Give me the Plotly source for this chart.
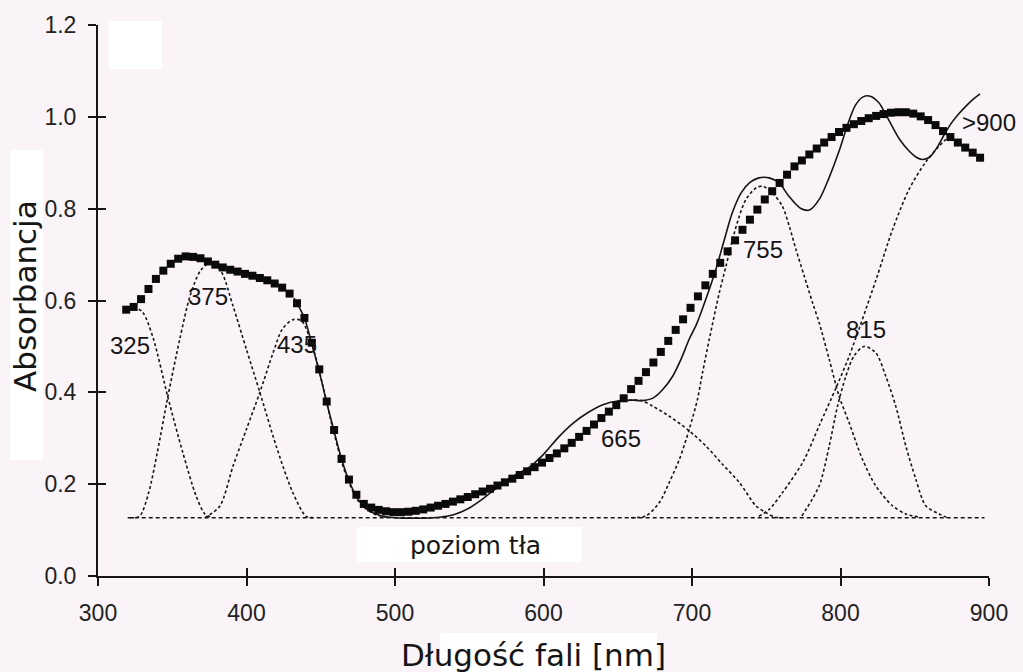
import plotly.graph_objects as go

# ---- measured absorbance spectrum (square markers) ----
wavelength = [
    319, 324, 329, 334, 339, 344, 349, 354, 359, 364, 369, 374, 379, 384, 389, 394,
    399, 404, 409, 414, 419, 424, 429, 434, 439, 444, 449, 454, 459, 464, 469, 474,
    479, 484, 489, 494, 499, 504, 509, 514, 519, 524, 529, 534, 539, 544, 549, 554,
    559, 564, 569, 574, 579, 584, 589, 594, 599, 604, 609, 614, 619, 624, 629, 634,
    639, 644, 649, 654, 659, 664, 669, 674, 679, 684, 689, 694, 699, 704, 709, 714,
    719, 724, 729, 734, 739, 744, 749, 754, 759, 764, 769, 774, 779, 784, 789, 794,
    799, 804, 809, 814, 819, 824, 829, 834, 839, 844, 849, 854, 859, 864, 869, 874,
    879, 884, 889, 894,
]
absorbance = [
    0.580, 0.586, 0.603, 0.625, 0.647, 0.665, 0.680, 0.691, 0.696, 0.695, 0.692, 0.685,
    0.678, 0.672, 0.667, 0.663, 0.658, 0.654, 0.649, 0.644, 0.637, 0.628, 0.615, 0.594,
    0.562, 0.508, 0.450, 0.380, 0.318, 0.255, 0.210, 0.177, 0.157, 0.149, 0.144, 0.141,
    0.139, 0.139, 0.140, 0.142, 0.145, 0.149, 0.153, 0.157, 0.162, 0.167, 0.172, 0.178,
    0.184, 0.190, 0.197, 0.204, 0.212, 0.220, 0.228, 0.237, 0.247, 0.257, 0.267, 0.278,
    0.290, 0.303, 0.316, 0.330, 0.344, 0.358, 0.372, 0.387, 0.407, 0.425, 0.444, 0.465,
    0.488, 0.512, 0.536, 0.559, 0.584, 0.609, 0.633, 0.658, 0.682, 0.707, 0.731, 0.754,
    0.776, 0.798, 0.820, 0.838, 0.856, 0.874, 0.892, 0.905, 0.918, 0.931, 0.944, 0.956,
    0.967, 0.976, 0.984, 0.991, 0.997, 1.002, 1.006, 1.009, 1.010, 1.010, 1.007, 1.001,
    0.993, 0.982, 0.969, 0.956, 0.944, 0.933, 0.922, 0.911,
]

# ---- sum of fitted bands (solid line) ----
fit_wl = [
    432, 439, 444, 449, 454, 459, 464, 469, 474, 479, 484, 489, 494, 500, 510, 520,
    530, 540, 550, 560, 570, 580, 590, 600, 610, 620, 630, 640, 650, 660, 666, 674,
    680, 687, 693, 698, 703, 709, 716, 722, 727, 733, 739, 745, 752, 759, 765, 773,
    779, 786, 792, 799, 805, 810, 815, 820, 826, 830, 835, 840, 846, 851, 855, 860,
    865, 870, 875, 880, 885, 890, 894,
]
fit_abs = [
    0.605, 0.562, 0.505, 0.445, 0.378, 0.315, 0.255, 0.208, 0.173, 0.152, 0.140, 0.133,
    0.129, 0.127, 0.126, 0.126, 0.128, 0.134, 0.148, 0.170, 0.196, 0.218, 0.236, 0.265,
    0.302, 0.333, 0.356, 0.373, 0.381, 0.383, 0.382, 0.388, 0.405, 0.435, 0.475, 0.515,
    0.548, 0.600, 0.667, 0.735, 0.790, 0.834, 0.857, 0.867, 0.867, 0.855, 0.828, 0.801,
    0.797, 0.822, 0.865, 0.925, 0.985, 1.025, 1.043, 1.045, 1.030, 1.008, 0.978, 0.950,
    0.926, 0.912, 0.907, 0.912, 0.933, 0.962, 0.988, 1.008, 1.025, 1.040, 1.050,
]

# ---- background level (dotted) ----
baseline_wl = [320, 897]
baseline_abs = [0.127, 0.127]

# ---- individual Gaussian bands (dotted) ----
band_325_wl = [324, 330, 337, 347, 357, 366, 372, 377]
band_325_abs = [0.586, 0.575, 0.520, 0.390, 0.270, 0.175, 0.135, 0.127]

band_375_wl = [322, 328, 334, 340, 347, 355, 362, 369, 376, 383, 391, 400, 409, 420, 431, 440, 445]
band_375_abs = [0.127, 0.130, 0.180, 0.270, 0.390, 0.515, 0.610, 0.665, 0.683, 0.663,
                0.587, 0.493, 0.400, 0.283, 0.183, 0.130, 0.127]

band_435_wl = [372, 382, 391, 400, 409, 418, 424, 431, 437, 444, 451, 459, 467, 476, 486, 496]
band_435_abs = [0.127, 0.152, 0.240, 0.320, 0.400, 0.487, 0.537, 0.558, 0.556, 0.505,
                0.420, 0.310, 0.220, 0.160, 0.135, 0.127]

band_665_wl = [650, 660, 666, 673.5, 684.7, 698.2, 709.4, 720.6, 731.8, 743, 749.8, 756, 762]
band_665_abs = [0.381, 0.383, 0.382, 0.370, 0.348, 0.316, 0.283, 0.243, 0.204, 0.153,
                0.138, 0.128, 0.127]

band_755_wl = [659, 669, 678, 684.7, 691.5, 698.2, 703.7, 707.1, 711.6, 718.4, 722.9,
               727.3, 731.8, 736.3, 743, 747.5, 754.2, 760.9, 765.5, 770, 775.6, 781.2,
               785.6, 792.4, 799, 805.8, 814.8, 823.8, 835, 844, 853]
band_755_abs = [0.127, 0.131, 0.160, 0.204, 0.254, 0.320, 0.385, 0.443, 0.515, 0.617,
                0.675, 0.733, 0.783, 0.820, 0.845, 0.849, 0.834, 0.805, 0.762, 0.711,
                0.653, 0.595, 0.552, 0.472, 0.392, 0.334, 0.254, 0.196, 0.153, 0.135, 0.128]

band_815_wl = [774, 785.6, 792.4, 798, 803.6, 809, 815.9, 823.8, 830.5, 837.2, 844,
               850.7, 857.4, 866.4, 872]
band_815_abs = [0.131, 0.196, 0.283, 0.370, 0.435, 0.479, 0.500, 0.486, 0.435, 0.370,
                0.283, 0.211, 0.153, 0.135, 0.127]

band_900_wl = [745, 752, 761, 775, 786, 797, 806, 824, 835, 846, 857, 866, 873]
band_900_abs = [0.130, 0.145, 0.182, 0.250, 0.330, 0.410, 0.480, 0.646, 0.754, 0.841,
                0.900, 0.935, 0.957]

bands = [
    (band_325_wl, band_325_abs),
    (band_375_wl, band_375_abs),
    (band_435_wl, band_435_abs),
    (band_665_wl, band_665_abs),
    (band_755_wl, band_755_abs),
    (band_815_wl, band_815_abs),
    (band_900_wl, band_900_abs),
]

# band position labels (x, y = anchor point; the last one is left-anchored)
band_labels = ["325", "375", "435", "665", "755", "815", ">900"]
band_label_x = [321.5, 374, 434, 652, 748, 817.3, 880.5]
band_label_y = [0.503, 0.608, 0.505, 0.300, 0.710, 0.536, 0.987]
band_label_anchor = ["center", "center", "center", "center", "center", "center", "left"]

x_ticks = [300, 400, 500, 600, 700, 800, 900]
y_ticks = [0.0, 0.2, 0.4, 0.6, 0.8, 1.0, 1.2]

# ---- page geometry (pixels) ----
W, H = 1023, 672
PL, PR, PT, PB = 98, 989, 25, 576
BG = "rgb(250,244,249)"
INK = "#151515"


def fx(p):
    return (p - PL) / (PR - PL)


def fy(p):
    return (PB - p) / (PB - PT)


fig = go.Figure()

dotted = dict(color=INK, width=1.6, dash="3px,2.5px")

for wl, ab in bands:
    fig.add_trace(go.Scatter(x=wl, y=ab, mode="lines", line=dict(shape="spline", smoothing=0.8, **dotted),
                             hoverinfo="skip", showlegend=False))

fig.add_trace(go.Scatter(x=baseline_wl, y=baseline_abs, mode="lines", line=dict(color=INK, width=1.5, dash="4px,3px"),
                         xaxis="x2", yaxis="y2", hoverinfo="skip", showlegend=False))

fig.add_trace(go.Scatter(x=fit_wl, y=fit_abs, mode="lines",
                         line=dict(color=INK, width=1.6, shape="spline", smoothing=0.8),
                         showlegend=False))

fig.add_trace(go.Scatter(x=wavelength, y=absorbance, mode="markers",
                         marker=dict(symbol="square", size=8, color="#0a0a0a", line=dict(width=0)),
                         showlegend=False))

for t, xv, yv, xa in zip(band_labels, band_label_x, band_label_y, band_label_anchor):
    fig.add_annotation(x=xv, y=yv, text=t, showarrow=False, xref="x", yref="y",
                       xanchor=xa, yanchor="middle",
                       font=dict(family="Liberation Sans, Arial", size=24, color=INK))

# white patches behind the relabelled texts
patches = [
    (109, 21, 162, 69),
    (357, 527, 582, 562),
    (440, 633, 657, 672),
    (10, 150, 43, 460),
]
for x0, y0, x1, y1 in patches:
    fig.add_shape(type="rect", xref="paper", yref="paper",
                  x0=fx(x0), x1=fx(x1), y0=fy(y1), y1=fy(y0),
                  fillcolor="white", line=dict(width=0), layer="below")

title_font = dict(family="DejaVu Sans", size=31, color=INK)
fig.add_annotation(x=fx(25), y=fy(296), xref="paper", yref="paper", text="Absorbancja",
                   textangle=-90, showarrow=False, xanchor="center", yanchor="middle", font=title_font)
fig.add_annotation(x=fx(533), y=fy(655), xref="paper", yref="paper", text="Długość fali [nm]",
                   showarrow=False, xanchor="center", yanchor="middle", font=title_font)
fig.add_annotation(x=fx(475), y=fy(545), xref="paper", yref="paper", text="poziom tła",
                   showarrow=False, xanchor="center", yanchor="middle",
                   font=dict(family="DejaVu Sans", size=25, color=INK))

tick_font = dict(family="Liberation Sans, Arial", size=23, color="#222222")
axis_common = dict(showgrid=False, zeroline=False, ticklen=8, tickwidth=1.5, tickcolor=INK)

fig.update_layout(
    width=W, height=H,
    margin=dict(l=PL, r=W - PR, t=PT, b=H - PB, pad=0),
    paper_bgcolor=BG, plot_bgcolor=BG,
    xaxis=dict(range=[300, 900], tickvals=x_ticks, ticks="outside", showline=True, linecolor=INK,
               linewidth=2, tickfont=tick_font, ticklabelstandoff=7, **axis_common),
    yaxis=dict(range=[0, 1.2], tickvals=y_ticks, tickformat=".1f", ticks="outside", showline=True,
               linecolor=INK, linewidth=2, tickfont=tick_font, ticklabelstandoff=7, **axis_common),
    xaxis2=dict(range=[300, 900], tickvals=x_ticks, ticks="inside", overlaying="x", anchor="y2",
                showline=False, showticklabels=False, **axis_common),
    yaxis2=dict(range=[0, 1.2], tickvals=y_ticks, ticks="inside", overlaying="y", anchor="x2",
                showline=False, showticklabels=False, **axis_common),
)

fig.write_html("out.html")
